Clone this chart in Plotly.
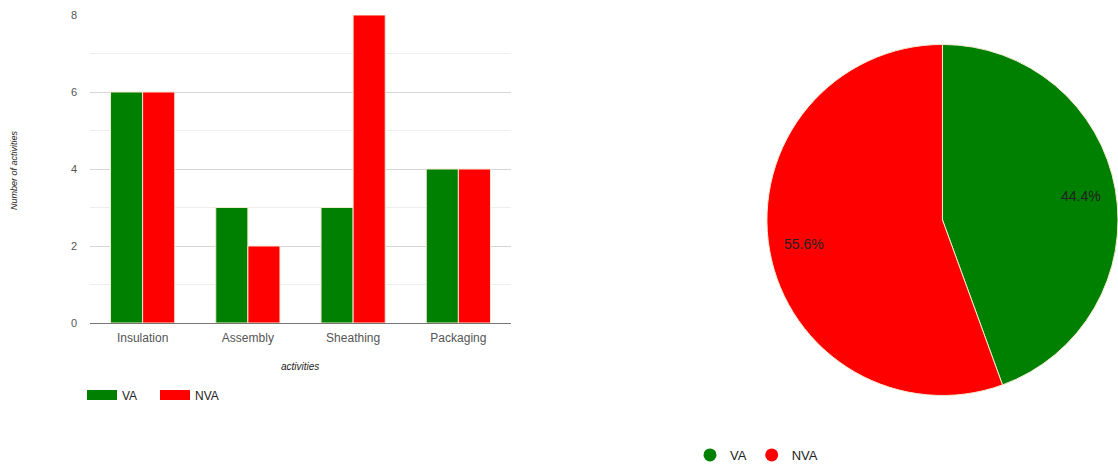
import math
import plotly.graph_objects as go

categories = ["Insulation", "Assembly", "Sheathing", "Packaging"]
va_counts = [6, 3, 3, 4]
nva_counts = [6, 2, 8, 4]
series_names = ["VA", "NVA"]
pie_values = [sum(va_counts), sum(nva_counts)]
y_ticks = [0, 2, 4, 6, 8]

GREEN = "#008000"
RED = "#ff0000"
FONT = "Liberation Sans, Arial, sans-serif"

fig = go.Figure()

fig.add_trace(go.Bar(
    x=categories, y=va_counts, name=series_names[0],
    marker=dict(color=GREEN, line=dict(color="#f3e9d2", width=1)),
    showlegend=False,
))
fig.add_trace(go.Bar(
    x=categories, y=nva_counts, name=series_names[1],
    marker=dict(color=RED, line=dict(color="#f3e9d2", width=1)),
    showlegend=False,
))

# bar legend entries (wide rectangles)
for name, col in zip(series_names, [GREEN, RED]):
    fig.add_trace(go.Scatter(
        x=[None], y=[None], mode="lines", name=name,
        line=dict(color=col, width=13),
        xaxis="x2", yaxis="y2", legend="legend",
    ))

pie_x0, pie_x1 = 0.686, 1.0
pie_y0, pie_y1 = 0.146, 0.912
fig.add_trace(go.Pie(
    labels=series_names, values=pie_values,
    marker=dict(colors=[GREEN, RED], line=dict(color="#f3e9d2", width=1)),
    sort=False, direction="clockwise", rotation=0,
    textinfo="none", hoverinfo="label+percent",
    showlegend=False,
    domain=dict(x=[pie_x0, pie_x1], y=[pie_y0, pie_y1]),
))

# legend entries for pie (circle markers)
for name, col in zip(series_names, [GREEN, RED]):
    fig.add_trace(go.Scatter(
        x=[None], y=[None], mode="markers", name=name,
        marker=dict(color=col, size=13, symbol="circle"),
        xaxis="x2", yaxis="y2", legend="legend2",
    ))

W, H = 1118, 467

# pie percentage labels positioned at 0.8 radius at slice mid-angle
total = sum(pie_values)
dom_w = (pie_x1 - pie_x0) * W
dom_h = (pie_y1 - pie_y0) * H
R = min(dom_w, dom_h) / 2
cx = (pie_x0 + pie_x1) / 2 * W
cy = (pie_y0 + pie_y1) / 2 * H  # from bottom
annotations = []
start = 0.0
for v in pie_values:
    frac = v / total
    mid = (start + frac / 2) * 2 * math.pi
    px = cx + 0.8 * R * math.sin(mid)
    py = cy + 0.8 * R * math.cos(mid)
    annotations.append(dict(
        x=px / W, y=py / H, xref="paper", yref="paper",
        text=f"{frac*100:.1f}%", showarrow=False,
        font=dict(family=FONT, size=14, color="#222222"),
        xanchor="center", yanchor="middle",
    ))
    start += frac

annotations.append(dict(
    x=14 / W, y=(H - 170) / H, xref="paper", yref="paper",
    text="<i>Number of activities</i>", textangle=-90, showarrow=False,
    font=dict(family=FONT, size=9, color="#222222"),
    xanchor="center", yanchor="middle",
))
annotations.append(dict(
    x=300 / W, y=(H - 367) / H, xref="paper", yref="paper",
    text="<i>activities</i>", showarrow=False,
    font=dict(family=FONT, size=10, color="#222222"),
    xanchor="center", yanchor="middle",
))

fig.update_layout(
    width=W, height=H,
    margin=dict(l=0, r=0, t=0, b=0, autoexpand=False),
    paper_bgcolor="white", plot_bgcolor="white",
    barmode="group", bargap=0.39, bargroupgap=0.0,
    font=dict(family=FONT, size=12, color="#555555"),
    xaxis=dict(
        domain=[90 / W, 511 / W],
        showgrid=False, showline=True, linecolor="#777777", linewidth=1,
        ticks="", tickfont=dict(size=12, color="#555555"),
        ticklabelstandoff=4, automargin=False,
        fixedrange=True,
    ),
    yaxis=dict(
        domain=[(H - 323) / H, (H - 15) / H],
        range=[0, 8], tickvals=y_ticks,
        showgrid=True, gridcolor="#d6d6d6", gridwidth=1,
        zeroline=False, showline=False, ticks="",
        ticklabelstandoff=12, automargin=False,
        tickfont=dict(size=11, color="#555555"),
        minor=dict(dtick=1, showgrid=True, gridcolor="#eeeeee", gridwidth=1),
        fixedrange=True,
    ),
    xaxis2=dict(domain=[0.9, 0.91], visible=False, anchor="y2"),
    yaxis2=dict(domain=[0.0, 0.01], visible=False, anchor="x2"),
    legend=dict(
        orientation="h", x=82 / W, y=(H - 395) / H,
        xanchor="left", yanchor="middle",
        font=dict(size=12, color="#222222"), itemwidth=30,
        entrywidth=28,
        bgcolor="rgba(0,0,0,0)",
    ),
    legend2=dict(
        orientation="h", x=690 / W, y=(H - 455) / H,
        xanchor="left", yanchor="middle",
        font=dict(size=13, color="#222222"), itemwidth=30,
        bgcolor="rgba(0,0,0,0)",
    ),
    annotations=annotations,
)

fig.write_html("out.html")
